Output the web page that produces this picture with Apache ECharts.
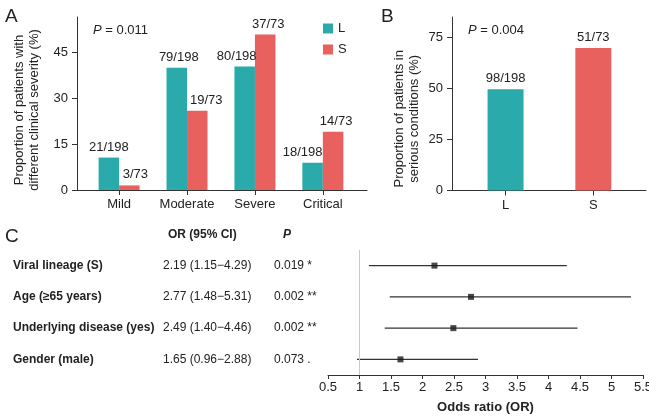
<!DOCTYPE html>
<html>
<head>
<meta charset="utf-8">
<script src="https://cdn.jsdelivr.net/npm/echarts@6/dist/echarts.min.js"></script>
<style>
html, body { margin: 0; padding: 0; background: #fff; }
#chart { width: 649px; height: 417px; }
</style>
</head>
<body>
<div id="chart"></div>
<script>
// A: clinical severity by lineage
const severity = ['Mild', 'Moderate', 'Severe', 'Critical']
const pctL = [10.6, 39.9, 40.3, 8.9]
const pctS = [1.5, 25.9, 50.8, 19.0]
const countL = ['21/198', '79/198', '80/198', '18/198']
const countS = ['3/73', '19/73', '37/73', '14/73']
const ticksA = [0, 15, 30, 45]

// B: serious conditions
const lineage = ['L', 'S']
const pctSerious = [49.6, 69.8]
const countSerious = ['98/198', '51/73']
const ticksB = [0, 25, 50, 75]

// C: odds ratios
const factors = ['Viral lineage (S)', 'Age (≥65 years)', 'Underlying disease (yes)', 'Gender (male)']
const orValue = [2.19, 2.77, 2.49, 1.65]
const ciLow = [1.15, 1.48, 1.40, 0.96]
const ciHigh = [4.29, 5.31, 4.46, 2.88]
const pText = ['0.019 *', '0.002 **', '0.002 **', '0.073 .']

const teal = '#2aaaab'
const red = '#e8615f'
const ink = '#222'
const axisCol = '#333'
const font = 'Liberation Sans'

// label nudges so the count labels sit like in the figure
const nudgeL = [0, 2, -8, -10]
const nudgeS = [6, 9, 3, 3]

const chart = echarts.init(document.getElementById('chart'))

function barAxisX(grid, names, min, max) {
  const idx = names.map((n, i) => i)
  return {
    gridIndex: grid, type: 'value', min: min, max: max,
    splitLine: { show: false },
    axisLine: { show: true, onZero: false, lineStyle: { color: axisCol } },
    axisTick: { show: true, length: 5, customValues: idx, lineStyle: { color: axisCol } },
    axisLabel: { customValues: idx, formatter: v => names[v], margin: 8, fontSize: 13, color: ink, fontFamily: font }
  }
}

function barAxisY(grid, max, ticks, name, gap, pad) {
  return {
    gridIndex: grid, type: 'value', min: 0, max: max,
    splitLine: { show: false },
    axisLine: { show: true, onZero: false, lineStyle: { color: axisCol } },
    axisTick: { show: true, length: 5, customValues: ticks, lineStyle: { color: axisCol } },
    axisLabel: { customValues: ticks, margin: 9, fontSize: 13, color: ink, fontFamily: font },
    name: name, nameLocation: 'middle', nameGap: gap,
    nameTextStyle: { fontSize: 13, lineHeight: 15, color: ink, fontFamily: font, padding: [0, pad, 0, 0] }
  }
}

const countLabel = { show: true, position: 'top', distance: 4, fontSize: 13, color: ink, fontFamily: font }

const option = {
  animation: false,
  textStyle: { fontFamily: font },
  title: [
    { text: 'A', left: 0, top: 2, textStyle: { fontSize: 19, fontWeight: 'normal', color: ink, fontFamily: font } },
    { text: 'B', left: 376, top: 2, textStyle: { fontSize: 19, fontWeight: 'normal', color: ink, fontFamily: font } },
    { text: 'C', left: 0, top: 222, textStyle: { fontSize: 19, fontWeight: 'normal', color: ink, fontFamily: font } },
    {
      text: '{i|P} = 0.011', left: 88, top: 19,
      textStyle: { fontSize: 13, fontWeight: 'normal', color: ink, fontFamily: font, rich: { i: { fontStyle: 'italic', fontSize: 13, color: ink, fontFamily: font } } }
    },
    {
      text: '{i|P} = 0.004', left: 463, top: 19,
      textStyle: { fontSize: 13, fontWeight: 'normal', color: ink, fontFamily: font, rich: { i: { fontStyle: 'italic', fontSize: 13, color: ink, fontFamily: font } } }
    },
    { text: 'OR (95% CI)', left: 163, top: 224, textStyle: { fontSize: 12, fontWeight: 'bold', color: ink, fontFamily: font } },
    { text: 'P', left: 278, top: 224, textStyle: { fontSize: 12, fontWeight: 'bold', fontStyle: 'italic', color: ink, fontFamily: font } }
  ],
  legend: {
    data: ['L', 'S'], orient: 'vertical', left: 318, top: 17,
    icon: 'rect', itemWidth: 10, itemHeight: 10, itemGap: 8,
    textStyle: { fontSize: 13, color: ink, fontFamily: font }
  },
  grid: [
    { left: 77, right: 282, top: 17, bottom: 227, outerBoundsMode: 'none' },
    { left: 452, right: 3, top: 17, bottom: 226.5, outerBoundsMode: 'none' },
    { left: 328, right: 6, top: 250, bottom: 42, outerBoundsMode: 'none' }
  ],
  xAxis: [
    barAxisX(0, severity, -0.62, 3.65),
    barAxisX(1, lineage, -0.61, 1.6),
    {
      gridIndex: 2, type: 'value', min: 0.5, max: 5.5, interval: 0.5,
      splitLine: { show: false },
      axisLine: { show: true, onZero: false, lineStyle: { color: axisCol } },
      axisTick: { show: true, length: 4, lineStyle: { color: axisCol } },
      axisLabel: { margin: 6, fontSize: 13, color: ink, fontFamily: font },
      name: 'Odds ratio (OR)', nameLocation: 'middle', nameGap: 26,
      nameTextStyle: { fontSize: 13, fontWeight: 'bold', color: ink, fontFamily: font }
    }
  ],
  yAxis: [
    barAxisY(0, 56.5, ticksA, 'Proportion of patients with\ndifferent clinical severity (%)', 35, 13),
    barAxisY(1, 85, ticksB, 'Proportion of patients in\nserious conditions (%)', 30, 30),
    {
      gridIndex: 2, type: 'category', inverse: true, data: factors,
      axisLine: { show: false }, axisTick: { show: false }, splitLine: { show: false },
      axisLabel: {
        align: 'left', margin: 315, color: ink, fontFamily: font, fontSize: 12,
        formatter: (v, i) => '{a|' + v + '}{b|' + orValue[i].toFixed(2) + ' (' + ciLow[i].toFixed(2) + '\u2212' + ciHigh[i].toFixed(2) + ')}{c|' + pText[i] + '}',
        rich: {
          a: { width: 150, fontWeight: 'bold', fontSize: 12, color: ink, fontFamily: font },
          b: { width: 111, fontSize: 12, color: ink, fontFamily: font },
          c: { fontSize: 12, color: ink, fontFamily: font }
        }
      }
    }
  ],
  series: [
    {
      name: 'L', type: 'bar', xAxisIndex: 0, yAxisIndex: 0,
      barWidth: 20.5, barGap: '0%', itemStyle: { color: teal },
      data: pctL.map((v, i) => ({ value: [i, v], label: { offset: [nudgeL[i], 0] } })),
      label: Object.assign({ formatter: p => countL[p.dataIndex] }, countLabel)
    },
    {
      name: 'S', type: 'bar', xAxisIndex: 0, yAxisIndex: 0,
      barWidth: 20.5, barGap: '0%', itemStyle: { color: red },
      data: pctS.map((v, i) => ({ value: [i, v], label: { offset: [nudgeS[i], 0] } })),
      label: Object.assign({ formatter: p => countS[p.dataIndex] }, countLabel)
    },
    {
      name: 'serious', type: 'bar', xAxisIndex: 1, yAxisIndex: 1,
      barWidth: 36,
      data: pctSerious.map((v, i) => ({ value: [i, v], itemStyle: { color: i === 0 ? teal : red } })),
      label: Object.assign({ formatter: p => countSerious[p.dataIndex] }, countLabel)
    },
    {
      name: 'ci', type: 'custom', xAxisIndex: 2, yAxisIndex: 2,
      encode: { x: [0, 1], y: 2 },
      data: factors.map((f, i) => [ciLow[i], ciHigh[i], i]),
      renderItem: (params, api) => {
        const a = api.coord([api.value(0), api.value(2)])
        const b = api.coord([api.value(1), api.value(2)])
        return {
          type: 'line',
          shape: { x1: a[0], y1: a[1], x2: b[0], y2: b[1] },
          style: { stroke: '#333', lineWidth: 1.4 }
        }
      }
    },
    {
      name: 'or', type: 'scatter', xAxisIndex: 2, yAxisIndex: 2,
      symbol: 'rect', symbolSize: 6, itemStyle: { color: '#1a1a1a' },
      data: orValue.map((v, i) => [v, i]),
      z: 3,
      markLine: {
        silent: true, symbol: 'none', label: { show: false },
        lineStyle: { color: '#c8c8c8', type: 'solid', width: 1 },
        data: [{ xAxis: 1 }]
      }
    }
  ]
}

chart.setOption(option)
</script>
</body>
</html>
